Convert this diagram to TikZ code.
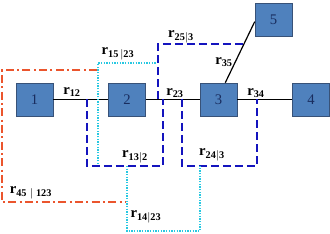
\documentclass[tikz,border=0pt]{standalone}
\usepackage{fontspec}
\setmainfont{Liberation Serif}
\usetikzlibrary{positioning}
\definecolor{boxblue}{RGB}{79, 129, 189}
\definecolor{boxedge}{RGB}{56, 82, 120}
\definecolor{numblue}{RGB}{25, 45, 95}
\definecolor{pathblue}{RGB}{20, 20, 190}
\definecolor{pathcyan}{RGB}{40, 200, 225}
\definecolor{pathred}{RGB}{235, 85, 45}
\tikzstyle{station} = [draw=boxedge, fill=boxblue, minimum width=27.75pt, minimum height=24.75pt, inner sep=0pt, text=numblue, font=\fontsize{11}{11}\selectfont]
\tikzstyle{link} = [black, line width=0.9pt]
\tikzstyle{corr} = [font=\fontsize{11}{11}\selectfont\bfseries, inner sep=0pt]
\tikzstyle{firstorder} = [pathblue, line width=1.1pt, dash pattern=on 6pt off 3pt]
\tikzstyle{secondorder} = [pathcyan, line width=0.8pt, dash pattern=on 1pt off 1pt]
\tikzstyle{thirdorder} = [pathred, line width=0.9pt, dash pattern=on 6pt off 2.5pt on 1.5pt off 2.5pt]

\begin{document}
\begin{tikzpicture}[x=0.75pt, y=-0.75pt]
    \useasboundingbox (0,0) rectangle (330,234);

    % Stations
    \node[station] (n1) at (34.5, 99.5) {1};
    \node[station] (n2) at (127, 99.5) {2};
    \node[station] (n3) at (218.5, 99.5) {3};
    \node[station] (n4) at (311, 99.5) {4};
    \node[station] (n5) at (273.5, 20) {5};

    % Direct links
    \draw[link] (n1) -- (n2) -- (n3) -- (n4);
    \draw[link] (n3.68) -- (n5.185);

    % First order paths
    \draw[firstorder] (87, 99) -- (87, 166) -- (163, 166) -- (163, 99);
    \draw[firstorder] (182, 99) -- (182, 166) -- (257, 166) -- (257, 99);
    \draw[firstorder] (158, 99) -- (158, 44) -- (244, 44);

    % Second order paths
    \draw[secondorder] (98, 164) -- (98, 63) -- (157, 63);
    \draw[secondorder] (127, 166) -- (127, 231) -- (200, 231) -- (200, 166);

    % Third order path
    \draw[thirdorder] (97, 70) -- (2, 70) -- (2, 202) -- (126, 202);

    % Labels
    \node[corr] (r12) at (72, 92) {r$_{\mathbf{12}}$};
    \node[corr] (r23) at (175, 93) {r$_{\mathbf{23}}$};
    \node[corr] (r34) at (256, 93) {r$_{\mathbf{34}}$};
    \node[corr] (r35) at (224, 62) {r$_{\mathbf{35}}$};
    \node[corr] (r25) at (181, 37) {r$_{\mathbf{25|3}}$};
    \node[corr] (r15) at (118, 54) {r$_{\mathbf{15\,|23}}$};
    \node[corr] (r13) at (135, 157) {r$_{\mathbf{13|2}}$};
    \node[corr] (r24) at (212, 155) {r$_{\mathbf{24|3}}$};
    \node[corr] (r45) at (31, 193) {r$_{\mathbf{45\;|\;123}}$};
    \node[corr] (r14) at (146, 217) {r$_{\mathbf{14|23}}$};
\end{tikzpicture}
\end{document}
